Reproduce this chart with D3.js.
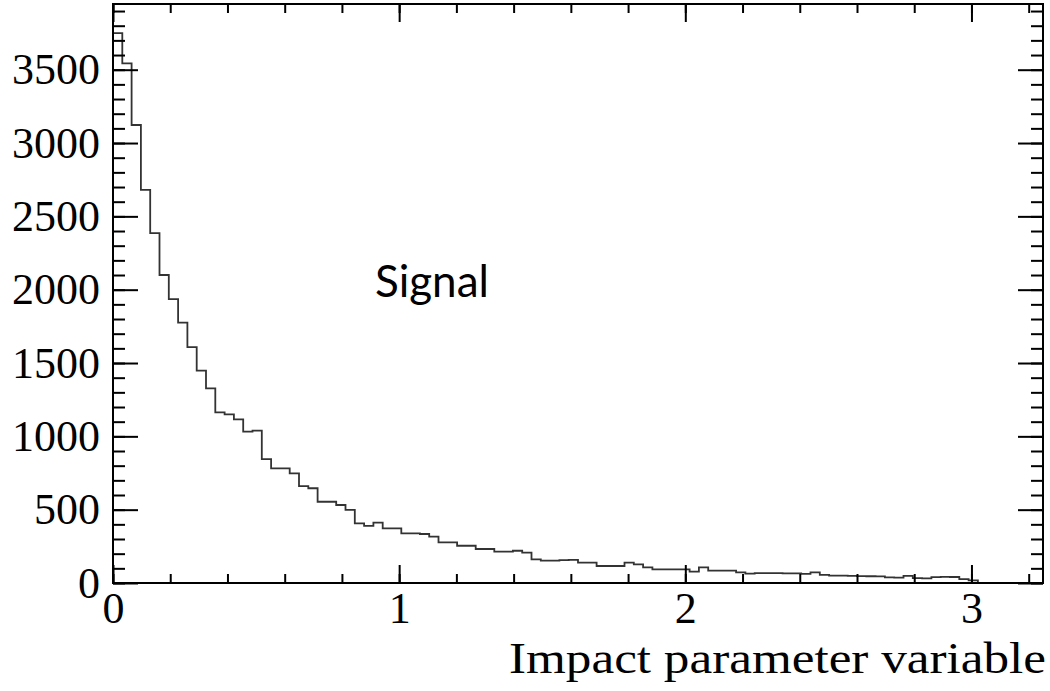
<!DOCTYPE html>
<html>
<head>
<meta charset="utf-8">
<script src="https://cdn.jsdelivr.net/npm/d3@7"></script>
<style>
  html, body { margin: 0; padding: 0; background: #fff; }
  svg { display: block; }
</style>
</head>
<body>
<svg id="chart" width="1050" height="691"></svg>
<script>
// Histogram of the impact parameter variable (signal sample), 100 bins over [0, 3.25]
const xRange = [0, 3.25];
const nBins = 100;
const counts = [
  3750, 3543, 3123, 2680, 2386, 2100, 1936, 1775, 1609, 1448,
  1327, 1164, 1150, 1116, 1032, 1039, 845, 782, 782, 748,
  661, 646, 554, 554, 532, 498, 407, 389, 411, 373,
  373, 339, 339, 334, 316, 277, 277, 254, 254, 232,
  232, 214, 214, 220, 207, 161, 152, 152, 156, 158,
  139, 139, 116, 116, 116, 139, 127, 107, 93, 93,
  93, 93, 77, 107, 84, 84, 84, 73, 64, 68,
  68, 68, 66, 66, 62, 72, 56, 50, 50, 48,
  47, 46, 45, 38, 37, 48, 33, 32, 40, 42,
  41, 26, 18, 0, 0, 0, 0, 0, 0, 0
];
const yMax = 3948;
const xMajorTicks = [0, 1, 2, 3];
const xMinorTicks = d3.range(0, 3.25, 0.2).map(v => +v.toFixed(2));
const yMajorTicks = [0, 500, 1000, 1500, 2000, 2500, 3000, 3500];
const yMinorTicks = d3.range(0, 3950, 100);
const xTitle = "Impact parameter variable";
const label = "Signal";

const svg = d3.select("#chart");
const plotLeft = 113, plotRight = 1043, plotTop = 4, plotBottom = 583;

const x = d3.scaleLinear().domain(xRange).range([plotLeft, plotRight]);
const y = d3.scaleLinear().domain([0, yMax]).range([plotBottom, plotTop]);

const binWidth = (xRange[1] - xRange[0]) / nBins;
const steps = counts.map((c, i) => [xRange[0] + i * binWidth, c]);
steps.push([xRange[1], counts[counts.length - 1]]);

// histogram outline
svg.append("path")
  .datum(steps)
  .attr("fill", "none")
  .attr("stroke", "#333")
  .attr("stroke-width", 1.8)
  .attr("d", d3.line().x(d => x(d[0])).y(d => y(d[1])).curve(d3.curveStepAfter));

const serif = "'Liberation Serif', 'Times New Roman', serif";

function styleAxis(g) {
  g.select(".domain").remove();
  g.selectAll(".tick line").attr("stroke", "#000").attr("stroke-width", 2);
  g.selectAll("text").attr("font-family", serif).attr("font-size", 44).attr("fill", "#000");
}

// bottom axis (ticks point inward)
svg.append("g").attr("transform", `translate(0,${plotBottom})`)
  .call(d3.axisBottom(x).tickValues(xMinorTicks).tickSize(-9).tickFormat(""))
  .call(styleAxis);
svg.append("g").attr("transform", `translate(0,${plotBottom})`)
  .call(d3.axisBottom(x).tickValues(xMajorTicks).tickSize(-18).tickPadding(9).tickFormat(d3.format("d")))
  .call(styleAxis);

// top axis mirror
svg.append("g").attr("transform", `translate(0,${plotTop})`)
  .call(d3.axisTop(x).tickValues(xMinorTicks).tickSize(-9).tickFormat(""))
  .call(styleAxis);
svg.append("g").attr("transform", `translate(0,${plotTop})`)
  .call(d3.axisTop(x).tickValues(xMajorTicks).tickSize(-18).tickFormat(""))
  .call(styleAxis);

// left axis
svg.append("g").attr("transform", `translate(${plotLeft},0)`)
  .call(d3.axisLeft(y).tickValues(yMinorTicks).tickSize(-12).tickFormat(""))
  .call(styleAxis);
svg.append("g").attr("transform", `translate(${plotLeft},0)`)
  .call(d3.axisLeft(y).tickValues(yMajorTicks).tickSize(-25).tickPadding(13).tickFormat(d3.format("d")))
  .call(styleAxis);

// right axis mirror
svg.append("g").attr("transform", `translate(${plotRight},0)`)
  .call(d3.axisRight(y).tickValues(yMinorTicks).tickSize(-12).tickFormat(""))
  .call(styleAxis);
svg.append("g").attr("transform", `translate(${plotRight},0)`)
  .call(d3.axisRight(y).tickValues(yMajorTicks).tickSize(-25).tickFormat(""))
  .call(styleAxis);

// frame
svg.append("rect")
  .attr("x", plotLeft).attr("y", plotTop)
  .attr("width", plotRight - plotLeft).attr("height", plotBottom - plotTop)
  .attr("fill", "none").attr("stroke", "#000").attr("stroke-width", 2);

// axis title
svg.append("text")
  .attr("x", 1046).attr("y", 673)
  .attr("text-anchor", "end")
  .attr("font-family", serif).attr("font-size", 45)
  .attr("textLength", 537)
  .attr("lengthAdjust", "spacingAndGlyphs")
  .attr("fill", "#000")
  .text(xTitle);

// sample label
svg.append("text")
  .attr("x", 375).attr("y", 297)
  .attr("font-family", "Lato, 'Open Sans', sans-serif").attr("font-size", 44)
  .attr("fill", "#000")
  .text(label);
</script>
</body>
</html>
